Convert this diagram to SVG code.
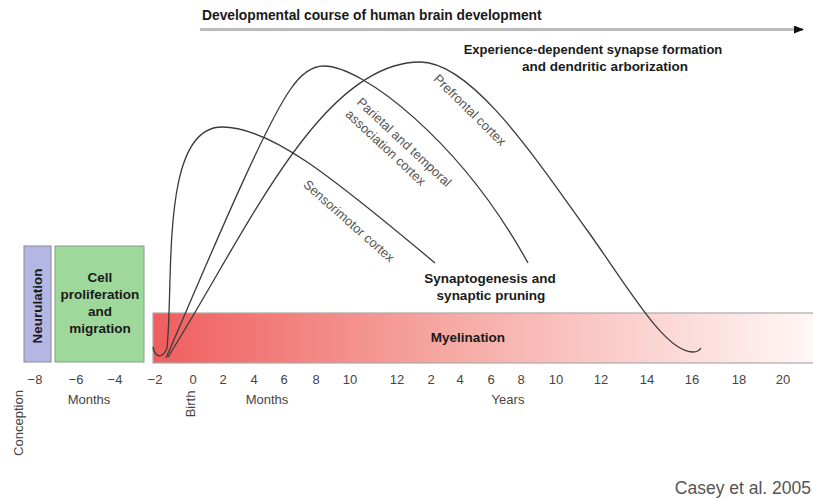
<svg xmlns="http://www.w3.org/2000/svg" width="813" height="500" viewBox="0 0 813 500">
<style>
.b{font-family:"Liberation Sans",Arial,sans-serif;font-weight:bold;font-size:13.5px;fill:#1a1a1a}
.t{font-family:"Liberation Sans",Arial,sans-serif;font-size:13px;fill:#444}
.r{font-family:"Liberation Sans",Arial,sans-serif;font-size:13px;fill:#555}
.c{fill:none;stroke:#3a3a3a;stroke-width:1.3}
</style>
<defs>
<linearGradient id="myel" x1="0" y1="0" x2="1" y2="0">
<stop offset="0" stop-color="#ef5e5e"/>
<stop offset="0.45" stop-color="#f6aaa5"/>
<stop offset="1" stop-color="#fff9f8"/>
</linearGradient>
<marker id="ah" markerWidth="10" markerHeight="8" refX="9" refY="4" orient="auto" markerUnits="userSpaceOnUse">
<path d="M0,0 L10,4 L0,8 Z" fill="#111"/>
</marker>
</defs>
<rect width="813" height="500" fill="#fff"/>

<g id="title">
<text class="b" x="202" y="20" style="font-size:13.8px">Developmental course of human brain development</text>
<line x1="200" y1="29.5" x2="803" y2="29.5" stroke="#bbb" stroke-width="3" marker-end="url(#ah)"/>
</g>

<g id="neurulation">
<rect x="24" y="246" width="27" height="116" fill="#b4b7e4" stroke="#8a8a9a" stroke-width="1"/>
<text class="b" transform="translate(42,306) rotate(-90)" text-anchor="middle">Neurulation</text>
</g>

<g id="cell-proliferation">
<rect x="55" y="246" width="89" height="116" fill="#9fd89b" stroke="#8a9a8a" stroke-width="1"/>
<text class="b" text-anchor="middle" x="100" y="282">Cell</text>
<text class="b" text-anchor="middle" x="100" y="299">proliferation</text>
<text class="b" text-anchor="middle" x="100" y="316">and</text>
<text class="b" text-anchor="middle" x="100" y="333">migration</text>
</g>

<g id="myelination">
<rect x="153" y="313" width="670" height="50" fill="url(#myel)" stroke="#aaa" stroke-width="1.2"/>
<text class="b" text-anchor="middle" x="468" y="342">Myelination</text>
</g>

<g id="connectors">
<path id="sensorimotor" class="c" d="M153,347 C155,357 162,360 167,348 C174,280 160,127 222,127 C270,127 330,175 435,263"/>
<path id="parietal" class="c" d="M166,358 C200,280 262,130 290,90 C300,75 312,66 324,66 C362,66 460,140 528,263"/>
<path id="prefrontal" class="c" d="M168,357 C245,235 320,62 420,62 C470,62 530,150 587,230 C630,290 665,352 693,352 C697,352 699,351 701,348"/>
</g>

<g id="curve-labels">
<text class="r" transform="translate(470,110) rotate(44.5)" text-anchor="middle" y="4.5">Prefrontal cortex</text>
<g transform="translate(359,100) rotate(43)">
<text class="r" x="0" y="4.5">Parietal and temporal</text>
<text class="r" x="0" y="21">association cortex</text>
</g>
<text class="r" transform="translate(349,221) rotate(41.5)" text-anchor="middle" y="4.5">Sensorimotor cortex</text>
</g>

<g id="experience">
<text class="b" text-anchor="middle" x="593" y="54" style="font-size:13px">Experience-dependent synapse formation</text>
<text class="b" text-anchor="middle" x="605" y="71">and dendritic arborization</text>
</g>

<g id="synaptogenesis">
<text class="b" text-anchor="middle" x="490" y="283">Synaptogenesis and</text>
<text class="b" text-anchor="middle" x="491" y="300">synaptic pruning</text>
</g>

<g id="axis">
<text class="t" text-anchor="middle" x="35" y="384">−8</text>
<text class="t" text-anchor="middle" x="76" y="384">−6</text>
<text class="t" text-anchor="middle" x="115" y="384">−4</text>
<text class="t" text-anchor="middle" x="155" y="384">−2</text>
<text class="t" text-anchor="middle" x="193" y="384">0</text>
<text class="t" text-anchor="middle" x="223" y="384">2</text>
<text class="t" text-anchor="middle" x="254" y="384">4</text>
<text class="t" text-anchor="middle" x="284" y="384">6</text>
<text class="t" text-anchor="middle" x="316" y="384">8</text>
<text class="t" text-anchor="middle" x="350" y="384">10</text>
<text class="t" text-anchor="middle" x="397" y="384">12</text>
<text class="t" text-anchor="middle" x="431" y="384">2</text>
<text class="t" text-anchor="middle" x="460" y="384">4</text>
<text class="t" text-anchor="middle" x="491" y="384">6</text>
<text class="t" text-anchor="middle" x="521" y="384">8</text>
<text class="t" text-anchor="middle" x="556" y="384">10</text>
<text class="t" text-anchor="middle" x="601" y="384">12</text>
<text class="t" text-anchor="middle" x="647" y="384">14</text>
<text class="t" text-anchor="middle" x="692" y="384">16</text>
<text class="t" text-anchor="middle" x="739" y="384">18</text>
<text class="t" text-anchor="middle" x="783" y="384">20</text>
<text class="t" text-anchor="middle" x="89" y="404">Months</text>
<text class="t" text-anchor="middle" x="267" y="404">Months</text>
<text class="t" text-anchor="middle" x="508" y="404">Years</text>
<text class="t" transform="translate(195,404) rotate(-90)" text-anchor="middle">Birth</text>
<text class="t" transform="translate(23,423) rotate(-90)" text-anchor="middle">Conception</text>
</g>

<text id="citation" x="811" y="494" text-anchor="end" font-family="'Liberation Sans',Arial,sans-serif" font-size="17.5" fill="#555">Casey et al. 2005</text>
</svg>
